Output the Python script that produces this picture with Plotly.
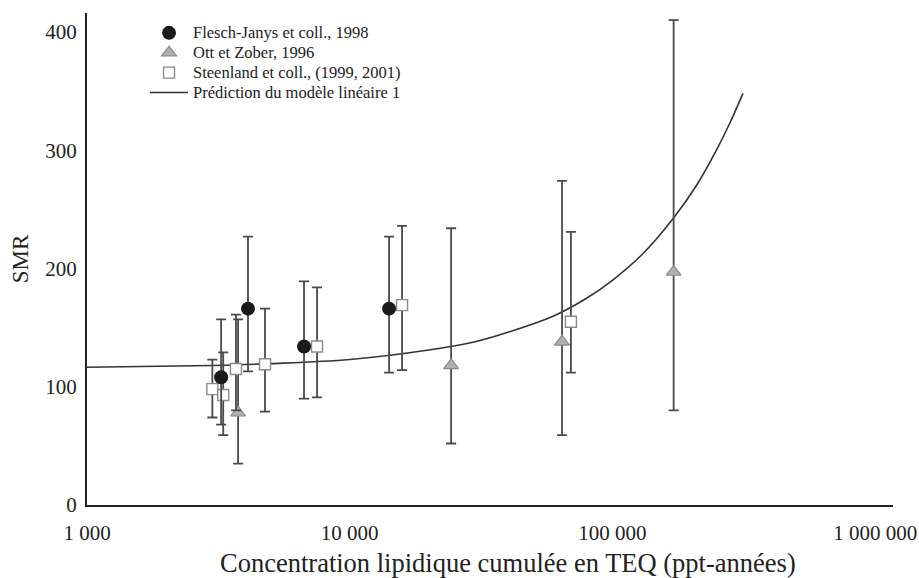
import plotly.graph_objects as go

# Flesch-Janys et coll., 1998
fj_x = [3240, 4100, 6700, 14120]
fj_smr = [108, 166, 134, 166]
fj_lo = [68, 113, 90, 112]
fj_hi = [157, 227, 189, 227]

# Ott et Zober, 1996
oz_x = [3760, 24320, 64300, 171000]
oz_smr = [78, 118, 138, 197]
oz_lo = [35, 52, 59, 80]
oz_hi = [157, 234, 274, 410]

# Steenland et coll., (1999, 2001)
st_x = [3000, 3300, 3690, 4760, 7510, 15820, 69500]
st_smr = [98, 93, 115, 119, 134, 169, 155]
st_lo = [74, 59, 80, 79, 91, 114, 112]
st_hi = [123, 129, 161, 166, 184, 236, 231]

# Prédiction du modèle linéaire 1
pred_x = [1000, 3000, 5000, 10000, 20000, 30000, 40000, 60000, 80000,
          100000, 130000, 170000, 210000, 250000, 280000, 314000]
pred_smr = [116.5, 118, 119.5, 123, 131, 138, 146, 160, 175,
            190, 212, 242, 271, 301, 323, 348]

x_tickvals = [1000, 10000, 100000, 1000000]
x_ticktext = ["1 000", "10 000", "100 000", "1 000 000"]
y_tickvals = [0, 100, 200, 300, 400]

FONT = "Liberation Serif"
TXT = "#222222"
BAR = "#4a4a4a"


def err(lo, hi, v):
    return dict(type="data", symmetric=False,
                array=[h - s for h, s in zip(hi, v)],
                arrayminus=[s - l for s, l in zip(v, lo)],
                color=BAR, thickness=1.8, width=5)


def lg(s):
    return '<span style="font-size:16.5px">' + s + '</span>'


fig = go.Figure()
fig.add_trace(go.Scatter(
    x=pred_x, y=pred_smr, mode="lines", line_shape="spline",
    name=lg("Prédiction du modèle linéaire 1"),
    line=dict(color="#333333", width=1.6), legendrank=4))
fig.add_trace(go.Scatter(
    x=oz_x, y=oz_smr, mode="markers", name=lg("Ott et Zober, 1996"),
    error_y=err(oz_lo, oz_hi, oz_smr),
    marker=dict(symbol="triangle-up", size=13, color="#b0b0b0",
                line=dict(color="#8a8a8a", width=1.2)), legendrank=2))
fig.add_trace(go.Scatter(
    x=st_x, y=st_smr, mode="markers", name=lg("Steenland et coll., (1999, 2001)"),
    error_y=err(st_lo, st_hi, st_smr),
    marker=dict(symbol="square", size=11, color="white",
                line=dict(color="#8a8a8a", width=1.4)), legendrank=3))
fig.add_trace(go.Scatter(
    x=fj_x, y=fj_smr, mode="markers", name=lg("Flesch-Janys et coll., 1998"),
    error_y=err(fj_lo, fj_hi, fj_smr),
    marker=dict(symbol="circle", size=14, color="#1a1a1a",
                line=dict(color="#1a1a1a", width=0)), legendrank=1))

fig.update_layout(
    width=919, height=578,
    margin=dict(l=87, r=26, t=13, b=73, autoexpand=False),
    paper_bgcolor="white", plot_bgcolor="white",
    font=dict(family=FONT, color=TXT, size=21),
    showlegend=True,
    legend=dict(x=0.072, y=0.99, xanchor="left", yanchor="top",
                font=dict(family=FONT, size=13, color=TXT),
                bgcolor="rgba(0,0,0,0)", tracegroupgap=0,
                itemwidth=38),
    xaxis=dict(type="log", range=[3, 6.068], automargin=False,
               tickvals=x_tickvals, ticktext=x_ticktext,
               showgrid=False, zeroline=False, showline=True,
               linecolor="#222222", linewidth=2, ticks="",
               ticklabelstandoff=8,
               tickfont=dict(family=FONT, size=21, color=TXT)),
    yaxis=dict(range=[0, 416], tickvals=y_tickvals, automargin=False,
               showgrid=False, zeroline=False, showline=True,
               linecolor="#222222", linewidth=2, ticks="",
               ticklabelstandoff=4,
               tickfont=dict(family=FONT, size=21, color=TXT),
               title=dict(text="SMR", font=dict(family=FONT, size=23, color=TXT),
                          standoff=10)),
    annotations=[dict(text="Concentration lipidique cumulée en TEQ (ppt-années)",
                      xref="paper", yref="paper", x=0.522, y=-0.118,
                      xanchor="center", yanchor="middle", showarrow=False,
                      font=dict(family=FONT, size=26.5, color=TXT))],
)

fig.write_html("out.html", config={"displayModeBar": False},
               post_script="document.body.style.margin='0px';")
